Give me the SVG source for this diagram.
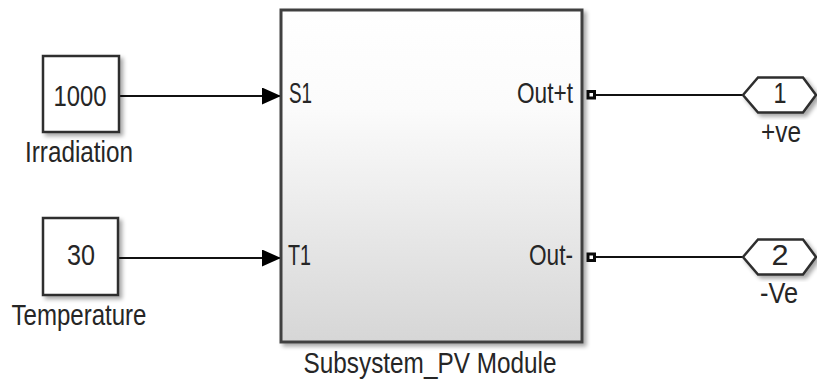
<svg xmlns="http://www.w3.org/2000/svg" width="817" height="383" viewBox="0 0 817 383">
  <defs>
    <linearGradient id="subGrad" x1="0" y1="0" x2="0" y2="1">
      <stop offset="0" stop-color="#ffffff"/>
      <stop offset="0.3" stop-color="#fbfbfb"/>
      <stop offset="1" stop-color="#d6d6d6"/>
    </linearGradient>
    <filter id="shadow" x="-10%" y="-10%" width="130%" height="130%">
      <feGaussianBlur in="SourceAlpha" stdDeviation="2"/>
      <feOffset dx="3" dy="3" result="b"/>
      <feComponentTransfer><feFuncA type="linear" slope="0.35"/></feComponentTransfer>
      <feMerge><feMergeNode/><feMergeNode in="SourceGraphic"/></feMerge>
    </filter>
    <marker id="arrow" markerWidth="19" markerHeight="17" refX="19" refY="8.5" orient="auto" markerUnits="userSpaceOnUse">
      <path d="M0,0 L19,8.5 L0,17 Z" fill="#000"/>
    </marker>
  </defs>
  <style>
    text { font-family: "Liberation Sans", Arial, sans-serif; fill: #262626; font-size: 29px; }
    .blk { fill: #ffffff; stroke: #2e2e2e; stroke-width: 2.5; }
    .sub { fill: url(#subGrad); stroke: #404040; stroke-width: 3; }
    .wire { stroke: #111111; stroke-width: 2; fill: none; }
    .port { fill: #ffffff; stroke: #0a0a0a; stroke-width: 3; }
    .mid { text-anchor: middle; }
    .end { text-anchor: end; }
  </style>
  <rect width="817" height="383" fill="#ffffff"/>

  <g id="connectors">
    <line class="wire" x1="119" y1="96" x2="281" y2="96" marker-end="url(#arrow)"/>
    <line class="wire" x1="118" y1="258" x2="281" y2="258" marker-end="url(#arrow)"/>
    <line class="wire" x1="596" y1="95" x2="743" y2="95"/>
    <line class="wire" x1="596" y1="257" x2="743" y2="257"/>
  </g>

  <g id="irradiation">
    <rect class="blk" x="43" y="56" width="76" height="76" filter="url(#shadow)"/>
    <text class="mid" x="80" y="106" textLength="53" lengthAdjust="spacingAndGlyphs">1000</text>
    <text class="mid" x="79" y="162" textLength="108" lengthAdjust="spacingAndGlyphs">Irradiation</text>
  </g>

  <g id="temperature">
    <rect class="blk" x="43" y="218" width="75" height="77" filter="url(#shadow)"/>
    <text class="mid" x="81" y="265" textLength="28" lengthAdjust="spacingAndGlyphs">30</text>
    <text class="mid" x="79" y="325" textLength="135" lengthAdjust="spacingAndGlyphs">Temperature</text>
  </g>

  <g id="subsystem">
    <rect class="sub" x="281" y="10" width="301" height="332" filter="url(#shadow)"/>
    <text x="289" y="103" font-size="25" textLength="23" lengthAdjust="spacingAndGlyphs">S1</text>
    <text x="288" y="265" font-size="25" textLength="23" lengthAdjust="spacingAndGlyphs">T1</text>
    <text class="end" x="573" y="103" font-size="25" textLength="56" lengthAdjust="spacingAndGlyphs">Out+t</text>
    <text class="end" x="573" y="265" font-size="25" textLength="44" lengthAdjust="spacingAndGlyphs">Out-</text>
    <rect class="port" x="588" y="91.5" width="6.5" height="6.5"/>
    <rect class="port" x="588" y="254" width="6.5" height="6.5"/>
    <text class="mid" x="430" y="373" textLength="253" lengthAdjust="spacingAndGlyphs">Subsystem_PV Module</text>
  </g>

  <g id="out1">
    <polygon class="blk" points="743,95 758,77.5 803,77.5 816,95 803,112.5 758,112.5" filter="url(#shadow)"/>
    <text class="mid" x="780" y="103" textLength="13" lengthAdjust="spacingAndGlyphs">1</text>
    <text class="mid" x="781" y="142" textLength="40" lengthAdjust="spacingAndGlyphs">+ve</text>
  </g>

  <g id="out2">
    <polygon class="blk" points="743,257 758,239.5 803,239.5 816,257 803,274.5 758,274.5" filter="url(#shadow)"/>
    <text class="mid" x="780" y="265" textLength="17" lengthAdjust="spacingAndGlyphs">2</text>
    <text class="mid" x="779" y="303" textLength="38" lengthAdjust="spacingAndGlyphs">-Ve</text>
  </g>
</svg>
